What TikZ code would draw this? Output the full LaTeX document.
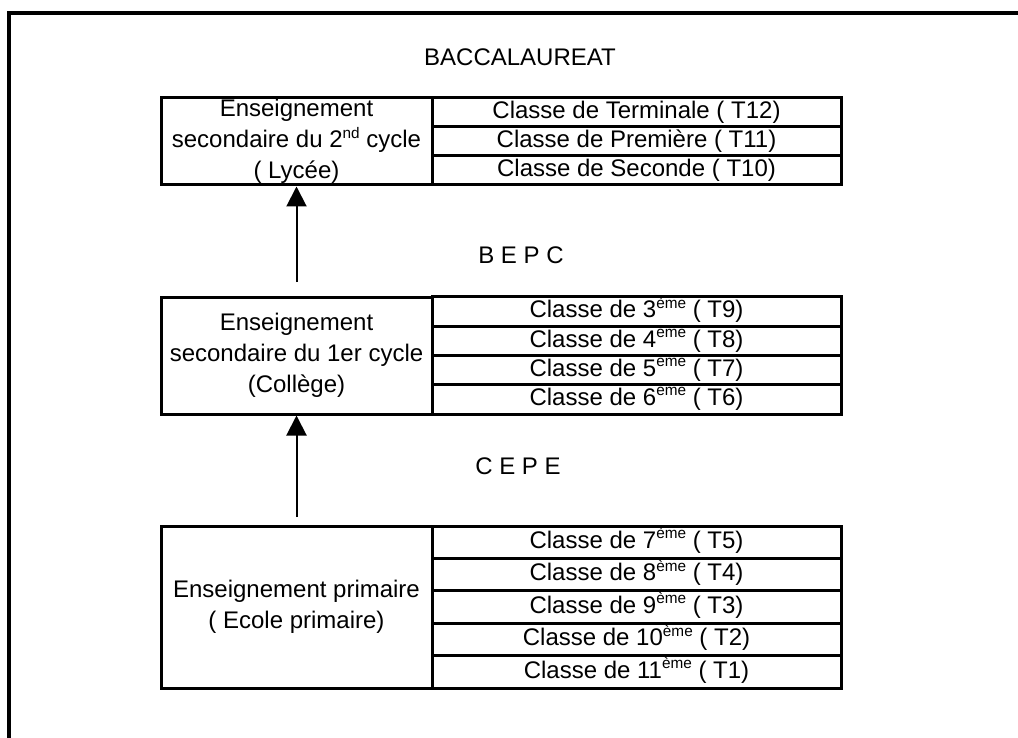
\documentclass[tikz,border=0pt]{standalone}
\usepackage{fontspec}
\setmainfont{Liberation Sans}
\usetikzlibrary{arrows.meta}
\newcommand{\sups}[1]{\raisebox{0.4em}[0pt][0pt]{\fontsize{11.5}{11}\selectfont #1}}
\tikzset{frame/.style={line width=2.4pt},
  lvl/.style={draw,line width=2.25pt,minimum width=203.25pt,align=center,inner sep=0pt},
  cls/.style={draw,line width=2.25pt,minimum width=306.75pt,inner sep=0pt},
  exam/.style={inner sep=0pt},
  up/.style={line width=1.5pt,-{Triangle[length=15pt,width=15pt]}}
}
\begin{document}
\begin{tikzpicture}[x=0.75pt,y=-0.75pt,font=\fontsize{18}{23.25}\selectfont]
\useasboundingbox (0,0) rectangle (1018,738);
\clip (0,0) rectangle (1018,738);
\draw[frame] (9,760) |- (1040,13);

\node[exam] (bac) at (520,57) {BACCALAUREAT};
\node[exam] (bepc) at (521,255) {B E P C};
\node[exam] (cepe) at (518,466) {C E P E};

% lycee
\foreach \txt [count=\i] in {{Classe de Terminale ( T12)},{Classe de Première ( T11)},{Classe de Seconde ( T10)}}
  \node[cls,minimum height=21.75pt] (ly\i) at (636.5,{98+29*(\i-0.5)}) {\txt};
\node[lvl,minimum height=65.25pt] (lyc) at (296.5,141.5)
  {Enseignement\\secondaire du 2\sups{nd} cycle\\( Lycée)};

% college
\foreach \txt [count=\i] in {{Classe de 3\sups{ème} ( T9)},{Classe de 4\sups{ème} ( T8)},{Classe de 5\sups{ème} ( T7)},{Classe de 6\sups{ème} ( T6)}}
  \node[cls,minimum height=21.94pt] (co\i) at (636.5,{297+29.25*(\i-0.5)}) {\txt};
\node[lvl,minimum height=87.75pt] (col) at (296.5,355.5)
  {Enseignement\\secondaire du 1er cycle\\(Collège)};

% primaire
\foreach \txt [count=\i] in {{Classe de 7\sups{ème} ( T5)},{Classe de 8\sups{ème} ( T4)},{Classe de 9\sups{ème} ( T3)},{Classe de 10\sups{ème} ( T2)},{Classe de 11\sups{ème} ( T1)}}
  \node[cls,minimum height=24.3pt] (pr\i) at (636.5,{526+32.4*(\i-0.5)}) {\txt};
\node[lvl,minimum height=121.5pt] (pri) at (296.5,607)
  {Enseignement primaire\\( Ecole primaire)};

\coordinate (a1) at (296.5,282);
\coordinate (a2) at (296.5,517);
\draw[up] (a1) -- (lyc.south);
\draw[up] (a2) -- (col.south);
\end{tikzpicture}
\end{document}
